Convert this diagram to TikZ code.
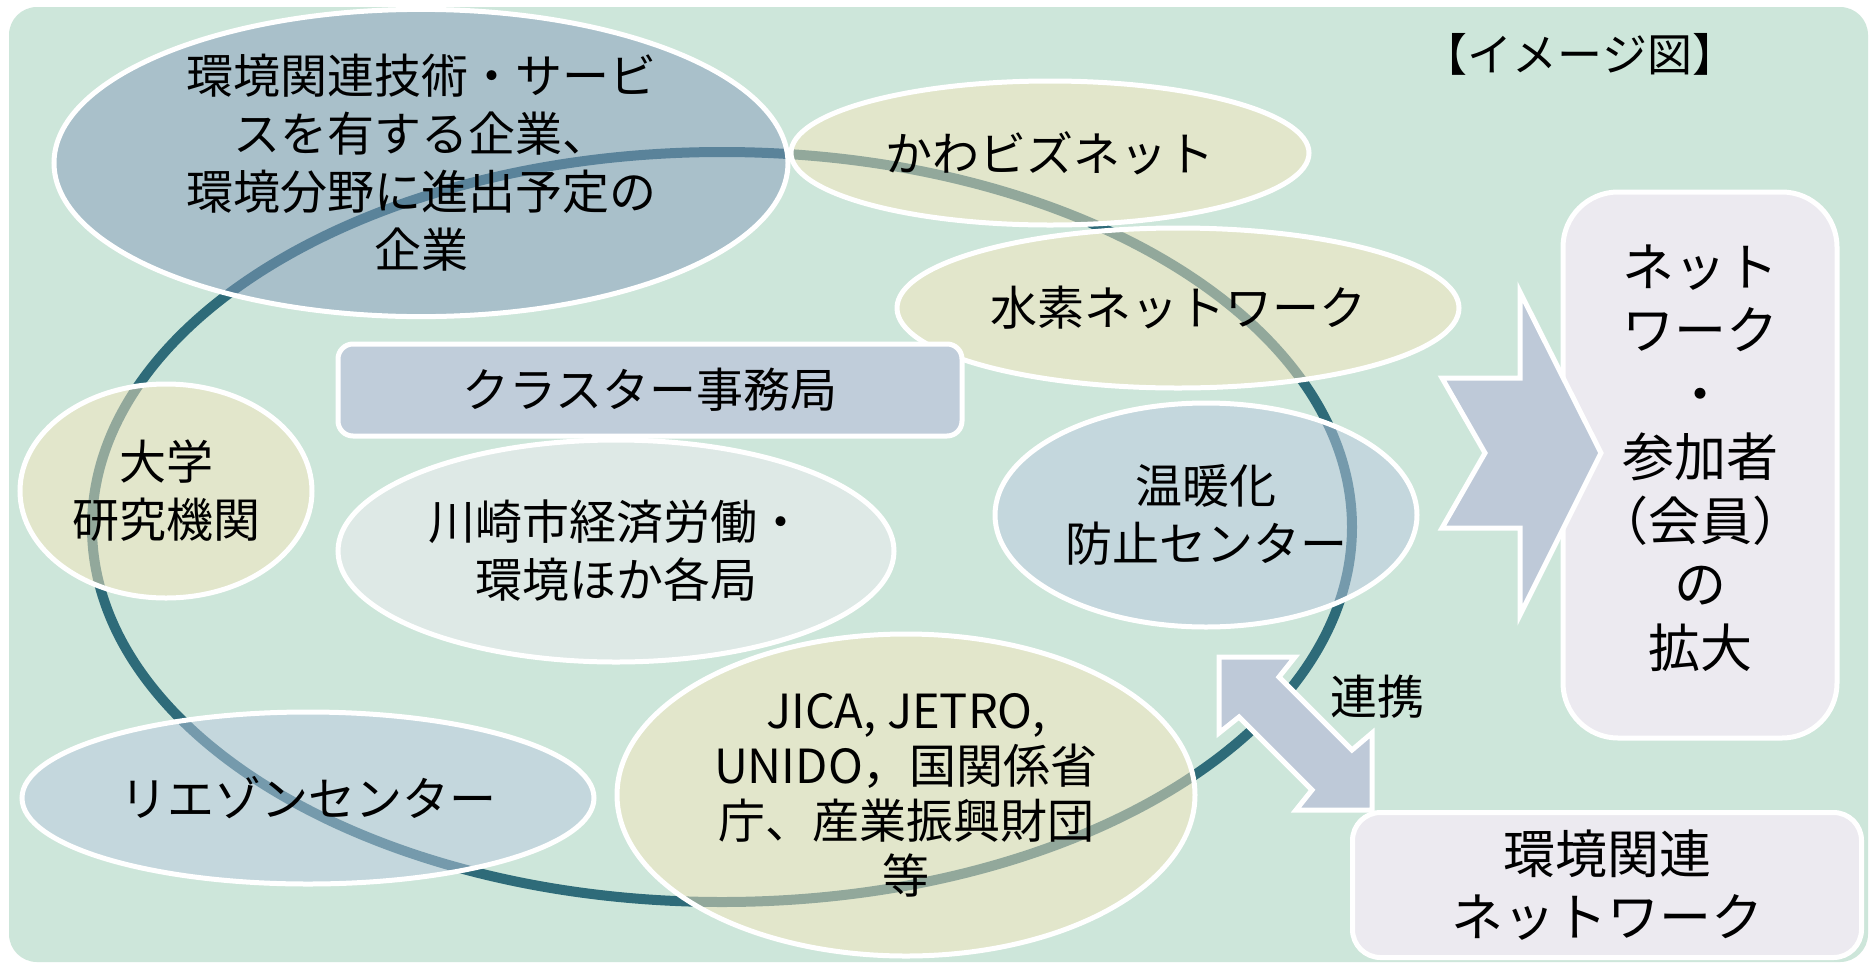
\documentclass[tikz,border=0pt]{standalone}
\usepackage{fontspec}
\setmainfont{Noto Sans CJK JP}
\usetikzlibrary{shapes.geometric}
\definecolor{bgc}{RGB}{205,230,218}
\definecolor{ringc}{RGB}{46,107,121}
\definecolor{yelc}{RGB}{247,230,190}
\definecolor{bluec}{RGB}{135,156,188}
\definecolor{lbluec}{RGB}{189,202,224}
\definecolor{palec}{RGB}{239,236,242}
\definecolor{rectc}{RGB}{192,205,218}
\definecolor{boxc}{RGB}{236,234,240}
\definecolor{arrc}{RGB}{190,201,216}
\begin{document}
\begin{tikzpicture}[x=1pt,y=-1pt,
  bubble/.style={ellipse, draw=white, line width=5pt, fill opacity=0.5, draw opacity=1, text opacity=1,
    inner sep=0pt, align=center, font=\fontsize{47}{58}\selectfont},
  panel/.style={draw=white, line width=5pt, inner sep=0pt, align=center},
  blockarrow/.style={draw=white, line width=5pt, fill=arrc, line join=miter},
  lbl/.style={inner sep=0pt, align=center, font=\fontsize{47}{58}\selectfont}]
\useasboundingbox (0,0) rectangle (1874,967);
\fill[white] (0,0) rectangle (1874,967);
\fill[bgc, rounded corners=28pt] (9,7) rectangle (1868,962);
% ring
\draw[ringc, line width=10pt] (722,527) ellipse [x radius=630pt, y radius=375pt];
% bubbles
\node[bubble, fill=bluec, minimum width=734pt, minimum height=260pt] (firms) at (421,163)
  {環境関連技術・サービ\\スを有する企業、\\環境分野に進出予定の\\企業};
\node[bubble, fill=yelc, minimum width=518pt, minimum height=144pt] (kawabiz) at (1050,153) {かわビズネット};
\node[bubble, fill=yelc, minimum width=562pt, minimum height=160pt] (h2net) at (1178,308) {水素ネットワーク};
\node[bubble, fill=yelc, minimum width=292pt, minimum height=214pt] (univ) at (166,491) {大学\\研究機関};
\node[bubble, fill=palec, minimum width=556pt, minimum height=222pt] (city) at (616,551) {川崎市経済労働・\\環境ほか各局};
\node[bubble, fill=lbluec, minimum width=422pt, minimum height=224pt] (warm) at (1206,515) {温暖化\\防止センター};
\node[bubble, fill=lbluec, minimum width=572pt, minimum height=172pt] (liaison) at (308,798) {リエゾンセンター};
\node[bubble, fill=yelc, minimum width=578pt, minimum height=322pt, font=\fontsize{47}{55}\selectfont] (jica) at (906,795)
  {JICA, JETRO,\\UNIDO，国関係省\\庁、産業振興財団\\等};
% office
\node[panel, fill=rectc, rounded corners=15pt, minimum width=624pt, minimum height=92pt,
  font=\fontsize{47}{58}\selectfont] (office) at (650,390) {クラスター事務局};
% right box
\node[panel, fill=boxc, rounded corners=55pt, minimum width=274pt, minimum height=546pt] (expand) at (1700,465) {};
% big arrow
\draw[blockarrow] (1442,378) -- (1520,378) -- (1520,292) -- (1601,453) -- (1520,615) -- (1520,528) -- (1442,528) -- (1485,453) -- cycle;
\node[lbl, font=\fontsize{52}{63.5}\selectfont] (expandtext) at (1700,458)
  {ネット\\ワーク\\・\\参加者\\（会員）\\の\\拡大};
% double arrow
\draw[blockarrow] (1219,657) -- (1295,657) -- (1279,677) -- (1352,750) -- (1372,733) -- (1372,810)
  -- (1296,810) -- (1312,790) -- (1239,717) -- (1219,733) -- cycle;
\node[lbl] (renkei) at (1377,697) {連携};
% bottom box
\node[panel, fill=boxc, rounded corners=28pt, minimum width=509pt, minimum height=145pt,
  font=\fontsize{52}{63}\selectfont] (envnet) at (1607,885) {環境関連\\ネットワーク};
% title
\node[lbl, font=\fontsize{45}{50}\selectfont] (title) at (1580,54) {【イメージ図】};
\end{tikzpicture}
\end{document}
